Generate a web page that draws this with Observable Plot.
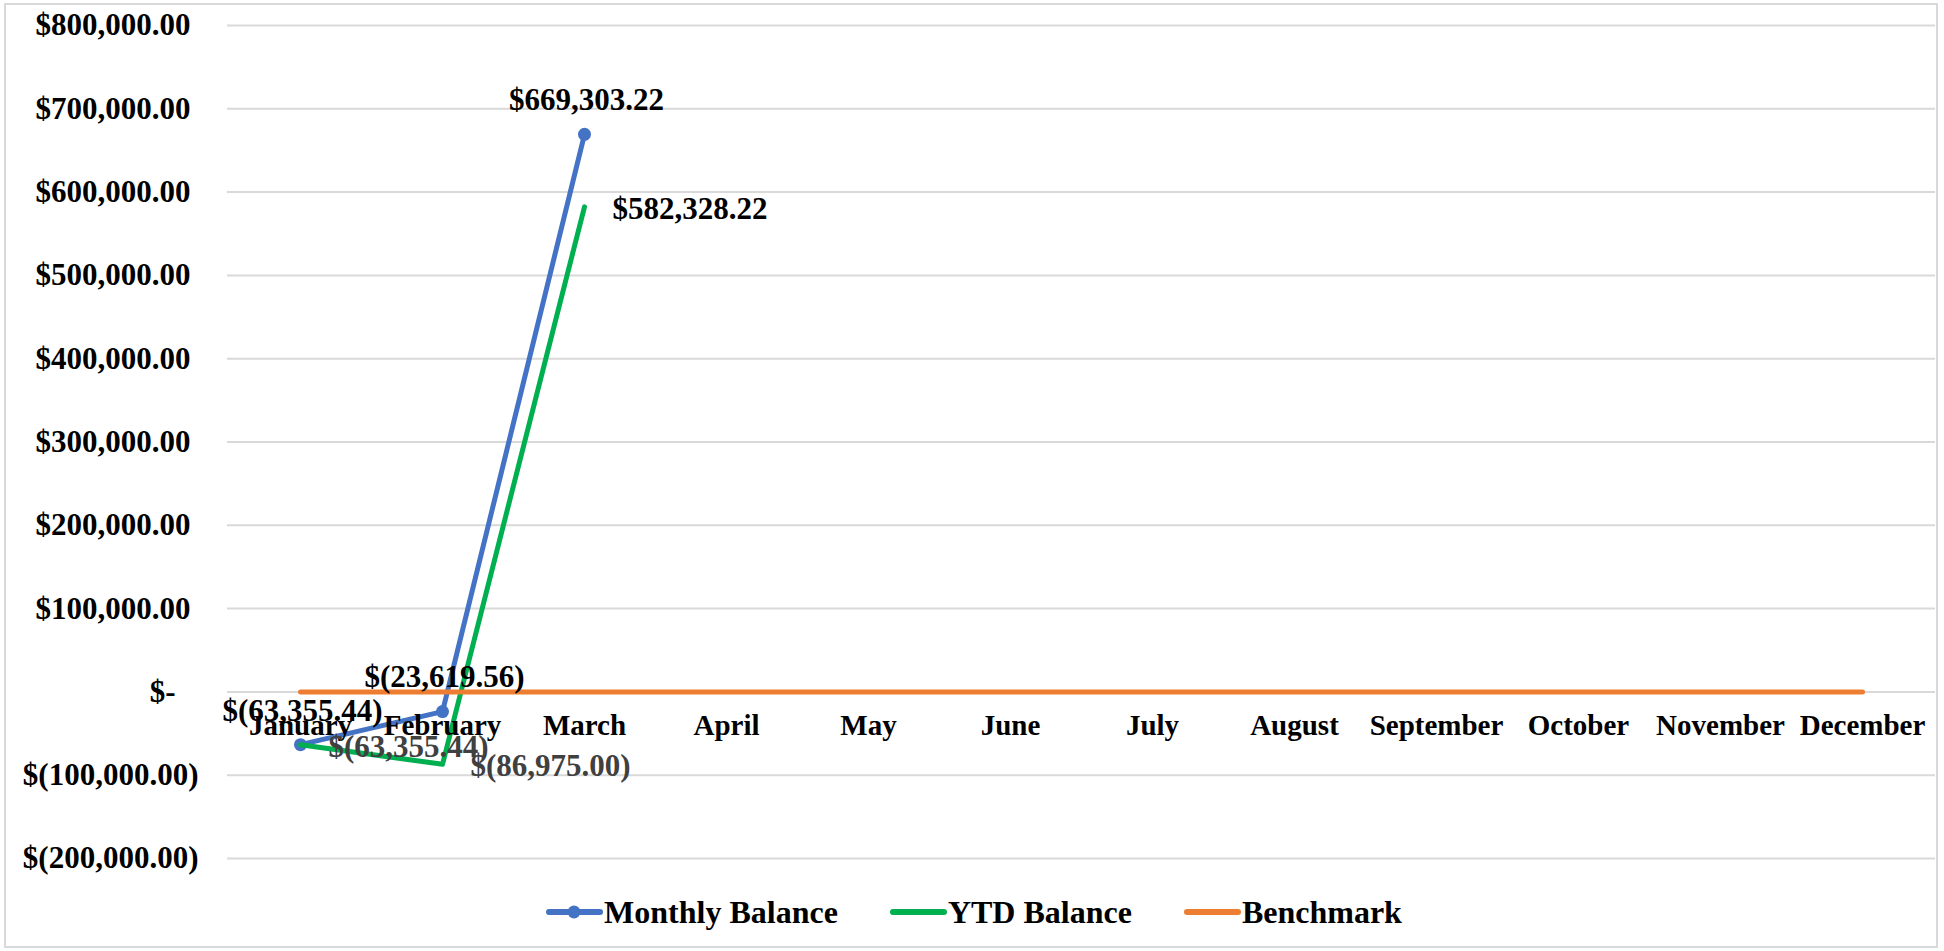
<!DOCTYPE html>
<html>
<head>
<meta charset="utf-8">
<script src="https://cdn.jsdelivr.net/npm/d3@7"></script>
<script src="https://cdn.jsdelivr.net/npm/@observablehq/plot@0.6"></script>
<style>
  html, body { margin: 0; padding: 0; background: #fff; }
  #wrap { position: relative; width: 1944px; height: 951px; overflow: hidden; font-family: "Liberation Serif", "Times New Roman", serif; }
  #border { position: absolute; left: 4px; top: 3px; width: 1934px; height: 945px; border: 2px solid #d9d9d9; box-sizing: border-box; pointer-events: none; }
  #chart { position: absolute; left: 0; top: 0; }
  #legend { position: absolute; left: 2px; top: 880px; width: 1944px; height: 64px; display: flex; justify-content: center; align-items: center; font-weight: bold; font-size: 32px; color: #000; }
  .item { display: flex; align-items: center; margin: 0 26px; }
  .item svg { display: block; margin-right: 1px; }
</style>
</head>
<body>
<div id="wrap">
  <div id="chart"></div>
  <div id="legend"></div>
  <div id="border"></div>
</div>
<script>
const months = ["January","February","March","April","May","June","July","August","September","October","November","December"];
const monthlyBalance = [-63355.44, -23619.56, 669303.22];
const ytdBalance = [-63355.44, -86975.00, 582328.22];
const benchmark = [0,0,0,0,0,0,0,0,0,0,0,0];
const yTicks = [-200000,-100000,0,100000,200000,300000,400000,500000,600000,700000,800000];
const seriesNames = ["Monthly Balance","YTD Balance","Benchmark"];
const seriesColors = ["#4472C4","#00B050","#ED7D31"];

const num = d3.format(",.2f");
const fmt = v => v > 0 ? "$" + num(v) : v < 0 ? "$(" + num(-v) + ")" : "$-";

const monthlyRows = monthlyBalance.map((v, i) => ({month: months[i], value: v}));
const ytdRows = ytdBalance.map((v, i) => ({month: months[i], value: v}));
const benchRows = benchmark.map((v, i) => ({month: months[i], value: v}));

const font = "'Liberation Serif', 'Times New Roman', serif";

const chart = Plot.plot({
  width: 1944,
  height: 880,
  marginLeft: 227,
  marginRight: 9,
  marginTop: 25,
  marginBottom: 22,
  x: {type: "point", domain: months, padding: 0.5, axis: null},
  y: {domain: [-200000, 800000], axis: null},
  style: {fontFamily: font, fontWeight: "bold", color: "#000", background: "transparent", overflow: "visible"},
  marks: [
    Plot.gridY(yTicks, {stroke: "#d9d9d9", strokeOpacity: 1, strokeWidth: 2}),
    Plot.axisY(yTicks.filter(t => t > 0), {label: null, tickSize: 0, tickPadding: 37, tickFormat: fmt, fontSize: 31, fill: "#000"}),
    Plot.axisY(yTicks.filter(t => t < 0), {label: null, tickSize: 0, tickPadding: 29, tickFormat: fmt, fontSize: 31, fill: "#000"}),
    Plot.axisY(yTicks.filter(t => t === 0), {label: null, tickSize: 0, tickPadding: 52, tickFormat: fmt, fontSize: 31, fill: "#000"}),
    Plot.line(monthlyRows, {x: "month", y: "value", stroke: seriesColors[0], strokeWidth: 5, strokeLinecap: "round", strokeLinejoin: "round"}),
    Plot.dot(monthlyRows, {x: "month", y: "value", r: 6.5, fill: seriesColors[0]}),
    Plot.line(ytdRows, {x: "month", y: "value", stroke: seriesColors[1], strokeWidth: 5, strokeLinecap: "round", strokeLinejoin: "round"}),
    Plot.line(benchRows, {x: "month", y: "value", stroke: seriesColors[2], strokeWidth: 5, strokeLinecap: "round"}),
    Plot.text(months, {x: d => d, y: () => 0, dy: 34, fontSize: 29, fill: "#000"}),
    Plot.text(monthlyRows, {x: "month", y: "value", text: d => fmt(d.value), dy: -34, dx: 2, fontSize: 31, fill: "#000"}),
    Plot.text(ytdRows, {x: "month", y: "value", text: d => fmt(d.value), dx: 28, dy: 2, textAnchor: "start", fontSize: 31, fill: d => d.value < 0 ? "#404040" : "#000"})
  ]
});
document.getElementById("chart").appendChild(chart);

const legend = document.getElementById("legend");
seriesNames.forEach((name, i) => {
  const item = document.createElement("div");
  item.className = "item";
  const dot = i === 0 ? `<circle cx="28" cy="10" r="6.5" fill="${seriesColors[i]}"/>` : "";
  item.innerHTML = `<svg width="57" height="20"><line x1="3" y1="10" x2="54" y2="10" stroke="${seriesColors[i]}" stroke-width="6" stroke-linecap="round"/>${dot}</svg><span>${name}</span>`;
  legend.appendChild(item);
});
</script>
</body>
</html>
